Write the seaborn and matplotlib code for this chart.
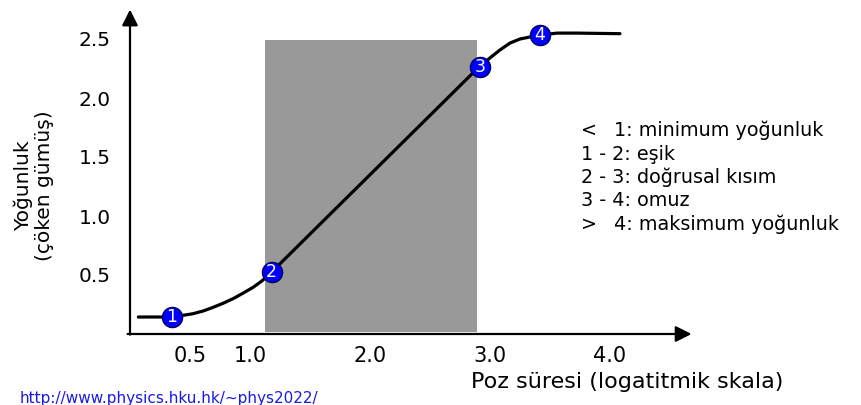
import seaborn as sns
import matplotlib.pyplot as plt
import pandas as pd
from matplotlib.patches import Rectangle

# Eğri noktaları
curve_x = [0.07, 0.35, 0.44, 0.525, 0.61, 0.69, 0.775, 0.86, 0.94, 1.025, 1.10, 1.18,
           2.91, 3.00, 3.083, 3.167, 3.25, 3.333, 3.417, 3.56, 3.725, 4.083]
curve_y = [0.144, 0.144, 0.158, 0.172, 0.195, 0.225, 0.26, 0.30, 0.345, 0.395, 0.45, 0.525,
           2.265, 2.34, 2.407, 2.466, 2.50, 2.517, 2.534, 2.55, 2.55, 2.545]

# Numaralı noktalar
point_x = [0.35, 1.18, 2.915, 3.417]
point_y = [0.144, 0.525, 2.265, 2.534]
point_labels = ['1', '2', '3', '4']

# Doğrusal bölge (gri alan)
region_start, region_end = 1.125, 2.89
region_bottom, region_top = 0.017, 2.49

x_ticks = [0.5, 1.0, 1.5, 2.0, 2.5, 3.0, 3.5, 4.0]
x_tick_labels = ['0.5', '1.0', '', '2.0', '', '3.0', '', '4.0']
y_ticks = [0.5, 1.0, 1.5, 2.0, 2.5]
y_tick_labels = ['0.5', '1.0', '1.5', '2.0', '2.5']

legend_keys = ['<', '1 - 2: eşik', '2 - 3: doğrusal kısım', '3 - 4: omuz', '>']
legend_rest = ['1: minimum yoğunluk', '', '', '', '4: maksimum yoğunluk']

df_curve = pd.DataFrame({'x': curve_x, 'y': curve_y})
df_points = pd.DataFrame({'x': point_x, 'y': point_y, 'label': point_labels})

sns.set_style('white')
plt.rcParams['font.family'] = ['DejaVu Sans']
plt.rcParams['text.color'] = 'black'
plt.rcParams['xtick.color'] = 'black'
plt.rcParams['ytick.color'] = 'black'

W, H = 861, 405
fig = plt.figure(figsize=(W / 100, H / 100), dpi=100)
ax = fig.add_axes([130 / W, 1 - 334 / H, 570 / W, 329 / H])
ax.set_xlim(0, 570 / 120)
ax.set_ylim(0, 329 / 118)
ax.patch.set_alpha(0)
for s in ax.spines.values():
    s.set_visible(False)
ax.set_axisbelow(True)

# Gri alan
ax.add_patch(Rectangle((region_start, region_bottom), region_end - region_start,
                       region_top - region_bottom, color='#999999', zorder=1, lw=0))

# Eğri
sns.lineplot(data=df_curve, x='x', y='y', sort=False, color='black', lw=2.3, ax=ax, zorder=3)

# Noktalar
sns.scatterplot(data=df_points, x='x', y='y', s=210, color='#0000ff', edgecolor='#000060',
                linewidth=1, ax=ax, zorder=4, clip_on=False)
for _, r in df_points.iterrows():
    ax.text(r['x'], r['y'], r['label'], color='white', fontsize=12.5, ha='center', va='center',
            zorder=5)

# Eksen okları
arrow = dict(arrowstyle='-|>', color='black', lw=1.6, mutation_scale=24, shrinkA=0, shrinkB=0)
ax.annotate('', xy=(4.68, 0), xytext=(-0.02, 0), arrowprops=arrow, annotation_clip=False, zorder=0)
ax.annotate('', xy=(0, 2.75), xytext=(0, -0.005), arrowprops=arrow, annotation_clip=False, zorder=0)

ax.set_xticks(x_ticks)
ax.set_xticklabels(x_tick_labels)
ax.set_yticks(y_ticks)
ax.set_yticklabels(y_tick_labels)
ax.tick_params(axis='x', direction='in', length=8, width=1.2, pad=9, labelsize=15)
ax.tick_params(axis='y', direction='in', length=8, width=1.2, pad=14, labelsize=14.5)
for t in ax.xaxis.get_major_ticks():
    if t.get_loc() == 1.0:
        t.tick1line.set_color('#aaaaaa')
ax.set_xlabel('')
ax.set_ylabel('')

# Eksen başlıkları
fig.text(34 / W, 1 - 186 / H, 'Yoğunluk\n(çöken gümüş)', rotation=90, fontsize=14.5,
         ha='center', va='center', linespacing=1.1)
fig.text(627 / W, 1 - 382 / H, 'Poz süresi (logatitmik skala)', fontsize=16,
         ha='center', va='center')

# Açıklama
baselines = [136, 160, 183, 206, 230]
for key, rest, b in zip(legend_keys, legend_rest, baselines):
    fig.text(581 / W, 1 - b / H, key, fontsize=13.8, ha='left', va='baseline')
    if rest:
        fig.text(614 / W, 1 - b / H, rest, fontsize=13.8, ha='left', va='baseline')

fig.text(20 / W, 1 - 403 / H, 'http://www.physics.hku.hk/~phys2022/', fontsize=11,
         color='#1a1ae6', ha='left', va='baseline')

fig.savefig('out.png', dpi=100)
